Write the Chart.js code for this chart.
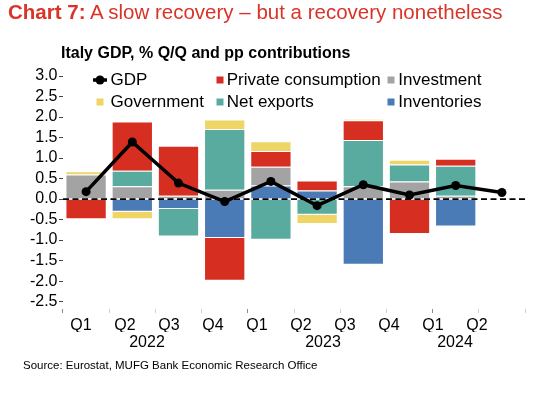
<!DOCTYPE html>
<html>
<head>
<meta charset="utf-8">
<title>Italy GDP contributions</title>
<script src="https://cdn.jsdelivr.net/npm/chart.js@4.4.1/dist/chart.umd.min.js"></script>
<style>
  html, body { margin: 0; padding: 0; background: #fff; }
  body { width: 548px; height: 394px; overflow: hidden; font-family: 'Liberation Sans', Arial, sans-serif; }
  .wrap { position: relative; width: 548px; height: 394px; }
  .wrap canvas { position: absolute; left: 0; top: 0; }
  .title { position: absolute; left: 8px; top: 2px; font-size: 20.5px; line-height: 1; color: #da3327; white-space: nowrap; }
  .subtitle { position: absolute; left: 61px; top: 45px; font-size: 16px; line-height: 1; font-weight: bold; color: #000; white-space: nowrap; }
  .source { position: absolute; left: 23px; top: 360px; font-size: 11.5px; line-height: 1; color: #000; white-space: nowrap; }
</style>
</head>
<body>
<div class="wrap">
  <canvas id="gdpChart" width="548" height="394"></canvas>
  <div class="title"><b>Chart 7:</b> A slow recovery – but a recovery nonetheless</div>
  <div class="subtitle">Italy GDP, % Q/Q and pp contributions</div>
  <div class="source">Source: Eurostat, MUFG Bank Economic Research Office</div>
</div>
<script>
(function () {
    'use strict';

    // =================== Data ===================

    const quarters = ['Q1', 'Q2', 'Q3', 'Q4', 'Q1', 'Q2', 'Q3', 'Q4', 'Q1', 'Q2'];
    const years = ['2022', '2023', '2024'];
    const yearStart = [0, 4, 8];   // index of first quarter of each year

    const gdp                = [0.18, 1.39, 0.39, -0.06, 0.43, -0.16, 0.35, 0.10, 0.33, 0.16];
    const privateConsumption = [-0.49, 1.20, 1.22, -1.04, 0.38, 0.24, 0.48, -0.85, 0.17, null];
    const investment         = [0.60, 0.31, 0.08, 0.23, 0.46, 0.00, 0.31, 0.43, 0.08, null];
    const government         = [0.08, -0.18, 0.00, 0.23, 0.24, -0.23, 0.03, 0.12, 0.00, null];
    const netExports         = [0.00, 0.38, -0.67, 1.48, -0.99, -0.38, 1.13, 0.41, 0.73, null];
    const inventories        = [0.00, -0.31, -0.24, -0.95, 0.33, 0.21, -1.60, 0.00, -0.67, null];

    const yTicks = [3.0, 2.5, 2.0, 1.5, 1.0, 0.5, 0.0, -0.5, -1.0, -1.5, -2.0, -2.5];

    const legendOrder = ['GDP', 'Private consumption', 'Investment', 'Government', 'Net exports', 'Inventories'];

    // =================== Helpers ===================

    const FONT = "'Liberation Sans', Arial, sans-serif";

    function barSet(label, data, color) {
        return {
            type: 'bar',
            label: label,
            data: data,
            backgroundColor: color,
            borderColor: 'rgba(255,255,255,0.55)',
            borderWidth: 1,
            stack: 'contrib',
            order: 1,
            barPercentage: 0.894,
            categoryPercentage: 1.0
        };
    }

    // year label sits in the middle of its quarters
    function yearCentres() {
        return yearStart.map((s, i) => {
            const end = (i + 1 < yearStart.length ? yearStart[i + 1] : quarters.length) - 1;
            return (s + end) / 2;
        });
    }

    // =================== Plugins ===================

    // dashed zero line, over the bars but under GDP
    const zeroLine = {
        id: 'zeroLine',
        beforeDatasetDraw(chart, args) {
            if (args.meta.type !== 'line') return;
            const { ctx, chartArea, scales } = chart;
            const py = scales.y.getPixelForValue(0);
            ctx.save();
            ctx.strokeStyle = '#000';
            ctx.lineWidth = 1.8;
            ctx.setLineDash([6, 3.5]);
            ctx.beginPath();
            ctx.moveTo(chartArea.left, py);
            ctx.lineTo(chartArea.right, py);
            ctx.stroke();
            ctx.restore();
        }
    };

    // legend in 3 columns inside the plot area
    const legendCols = [{ marker: 100, text: 110.5 }, { marker: 220, text: 226.7 }, { marker: 391, text: 398.3 }];
    const legendRows = [80, 102];

    const insideLegend = {
        id: 'insideLegend',
        afterDraw(chart) {
            const ctx = chart.ctx;
            ctx.save();
            ctx.font = '17px ' + FONT;
            ctx.textBaseline = 'middle';
            legendOrder.forEach((label, i) => {
                const ds = chart.data.datasets.find(d => d.label === label);
                if (!ds) return;
                const col = legendCols[i % 3];
                const y = legendRows[Math.floor(i / 3)];
                if (ds.type === 'line') {
                    ctx.strokeStyle = ds.borderColor;
                    ctx.lineWidth = ds.borderWidth;
                    ctx.beginPath();
                    ctx.moveTo(col.marker - 7, y);
                    ctx.lineTo(col.marker + 7, y);
                    ctx.stroke();
                    ctx.fillStyle = ds.pointBackgroundColor;
                    ctx.beginPath();
                    ctx.arc(col.marker, y, ds.pointRadius, 0, Math.PI * 2);
                    ctx.fill();
                } else {
                    ctx.fillStyle = ds.backgroundColor;
                    ctx.fillRect(col.marker - 3.5, y - 3.5, 7, 7);
                }
                ctx.fillStyle = '#000';
                ctx.fillText(label, col.text, y);
            });
            ctx.restore();
        }
    };

    // =================== Chart ===================

    // text axes: labels are spaced a bit tighter than the bars (as in the original)
    const labelAxisRange = { min: -0.409, max: 10.091 };

    const ctx = document.getElementById('gdpChart').getContext('2d');

    new Chart(ctx, {
        data: {
            labels: quarters,
            datasets: [
                {
                    type: 'line',
                    label: 'GDP',
                    data: gdp,
                    borderColor: '#000',
                    borderWidth: 3.5,
                    pointRadius: 4.5,
                    pointHoverRadius: 4.5,
                    pointBackgroundColor: '#000',
                    pointBorderWidth: 0,
                    tension: 0,
                    stack: 'gdp',
                    order: 0
                },
                barSet('Inventories', inventories, '#4a7bb6'),
                barSet('Investment', investment, '#a3a3a3'),
                barSet('Net exports', netExports, '#5aab9f'),
                barSet('Private consumption', privateConsumption, '#d62e21'),
                barSet('Government', government, '#eed566')
            ]
        },
        options: {
            responsive: false,
            animation: false,
            devicePixelRatio: 1,
            layout: { padding: { top: 76, right: 23, bottom: 42, left: 0 } },
            plugins: {
                legend: { display: false },
                tooltip: { enabled: false }
            },
            scales: {
                x: {
                    type: 'category',
                    stacked: true,
                    offset: true,
                    weight: 0,
                    border: { display: false },
                    grid: {
                        offset: true,
                        drawOnChartArea: false,
                        tickLength: 4,
                        tickColor: c => yearStart.includes(c.index) ? '#8a8a8a' : '#cfcfcf'
                    },
                    ticks: { display: false },
                    afterFit: s => { s.height = 4; }
                },
                xq: {
                    type: 'linear',
                    position: 'bottom',
                    min: labelAxisRange.min,
                    max: labelAxisRange.max,
                    weight: 1,
                    border: { display: false },
                    grid: { display: false, drawTicks: false, tickLength: 0 },
                    afterBuildTicks: s => { s.ticks = quarters.map((q, i) => ({ value: i })); },
                    ticks: {
                        autoSkip: false,
                        maxRotation: 0,
                        padding: 3.4,
                        color: '#000',
                        font: { family: FONT, size: 16 },
                        callback: (v, i) => quarters[i]
                    },
                    afterFit: s => { s.height = 19; }
                },
                xy: {
                    type: 'linear',
                    position: 'bottom',
                    min: labelAxisRange.min,
                    max: labelAxisRange.max,
                    weight: 2,
                    border: { display: false },
                    grid: { display: false, drawTicks: false, tickLength: 0 },
                    afterBuildTicks: s => { s.ticks = yearCentres().map(v => ({ value: v })); },
                    ticks: {
                        autoSkip: false,
                        maxRotation: 0,
                        padding: 1,
                        color: '#000',
                        font: { family: FONT, size: 16 },
                        callback: (v, i) => years[i]
                    },
                    afterFit: s => { s.height = 20; }
                },
                y: {
                    stacked: true,
                    min: -2.68,
                    max: 3.0,
                    border: { display: false },
                    grid: {
                        drawOnChartArea: false,
                        tickLength: 4,
                        tickColor: '#444',
                        tickWidth: 1
                    },
                    afterBuildTicks: s => { s.ticks = yTicks.map(v => ({ value: v })); },
                    ticks: {
                        autoSkip: false,
                        padding: 1.5,
                        color: '#000',
                        font: { family: FONT, size: 16 },
                        callback: v => Number(v).toFixed(1)
                    },
                    afterFit: s => { s.width = 63; }
                }
            }
        },
        plugins: [zeroLine, insideLegend]
    });

})();
</script>
</body>
</html>
